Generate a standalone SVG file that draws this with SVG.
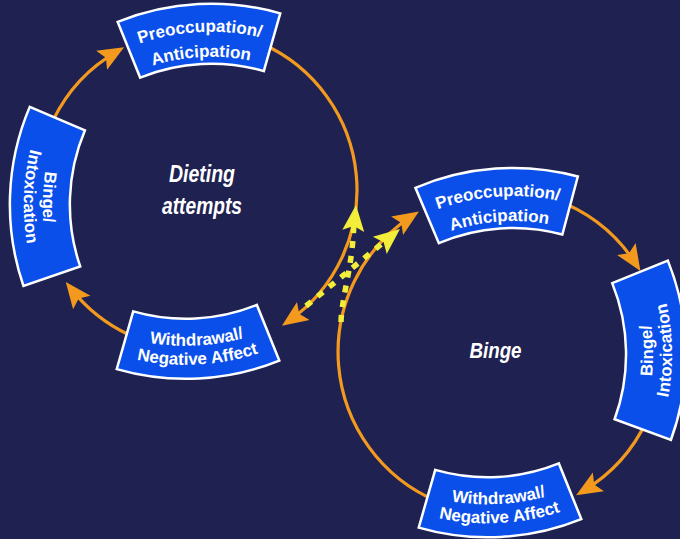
<svg xmlns="http://www.w3.org/2000/svg" xmlns:xlink="http://www.w3.org/1999/xlink" width="680" height="539" viewBox="0 0 680 539">
  <style>
    .banner { fill: #0B4FEA; stroke: #FFFFFF; stroke-width: 2.5; stroke-linejoin: miter; }
    .blabel { font-family: "Liberation Sans", Arial, sans-serif; font-weight: bold; font-size: 17px; fill: #FFFFFF; text-anchor: middle; }
    .center { font-family: "Liberation Sans", Arial, sans-serif; font-weight: bold; font-style: italic; fill: #FFFFFF; text-anchor: middle; }
    .cycle { fill: none; stroke: #F39A1E; stroke-width: 3.2; }
    .cross { fill: none; stroke: #F2EE3A; stroke-width: 5.5; stroke-dasharray: 7 8; }
    .yhead { fill: #F2EE3A; }
  </style>
  <defs>
    <!-- banner outlines: annular sectors, mid-point at origin -->
    <path id="frown" d="M-81.4,-19.4 A250,250 0 0,1 81.4,-19.4 L61.9,37.4 A190,190 0 0,0 -61.9,37.4 Z"/>
    <path id="smile" d="M-61.9,-37.4 A190,190 0 0,0 61.9,-37.4 L81.4,19.4 A250,250 0 0,1 -81.4,19.4 Z"/>
    <path id="smileL" d="M-68.1,-39.6 A190,190 0 0,0 68.1,-39.6 L89.6,16.4 A250,250 0 0,1 -89.6,16.4 Z"/>
    <!-- baselines for curved two-line labels -->
    <path id="f1" d="M-110,24.2 A222,222 0 0,1 110,24.2"/>
    <path id="f2" d="M-110,53.6 A197,197 0 0,1 110,53.6"/>
    <path id="s1" d="M-110,-29.95 A217,217 0 0,0 110,-29.95"/>
    <path id="s2" d="M-110,-8.2 A236,236 0 0,0 110,-8.2"/>
    <marker id="ah" viewBox="0 0 26 24" refX="18" refY="12" markerWidth="26" markerHeight="24" markerUnits="userSpaceOnUse" orient="auto">
      <path d="M0,1 L26,12 L0,23 L5,12 Z" fill="#F39A1E"/>
    </marker>
    <path id="yarrow" d="M-26,-11 L0,0 L-26,11 L-21,0 Z"/>
  </defs>

  <rect x="0" y="0" width="680" height="539" fill="#1F2251"/>

  <!-- cycle arrows -->
  <g id="connectors">
    <!-- dieting cycle, centre (197,190) r 160 -->
    <path class="cycle" marker-end="url(#ah)" d="M262.1,43.8 A160,160 0 0,1 288.5,321.2"/>
    <path class="cycle" marker-end="url(#ah)" d="M129.4,335.0 A160,160 0 0,1 70.7,288.3"/>
    <path class="cycle" marker-end="url(#ah)" d="M53.2,119.9 A160,160 0 0,1 117.2,51.3"/>
    <!-- binge cycle, centre (500,352) r 162 -->
    <path class="cycle" marker-end="url(#ah)" d="M555.4,199.8 A162,162 0 0,1 636.1,264.2"/>
    <path class="cycle" marker-end="url(#ah)" d="M646.8,420.5 A162,162 0 0,1 583.0,491.1"/>
    <path class="cycle" marker-end="url(#ah)" d="M436.7,501.1 A162,162 0 0,1 412.2,215.9"/>
    <!-- crossover paths between the two cycles -->
    <path class="cross" d="M341,322 C342,295 352,270 353.8,226"/>
    <path class="cross" d="M306,306 L384,242"/>
    <use href="#yarrow" class="yhead" transform="translate(356,205) rotate(-84)"/>
    <use href="#yarrow" class="yhead" transform="translate(400,229) rotate(-39)"/>
  </g>

  <!-- dieting cycle stages -->
  <g id="diet-preoccupation" transform="translate(200,37) rotate(-3)">
    <use href="#frown" class="banner"/>
    <text class="blabel"><textPath href="#f1" startOffset="50%">Preoccupation/</textPath></text>
    <text class="blabel"><textPath href="#f2" startOffset="50%">Anticipation</textPath></text>
  </g>
  <g id="diet-binge" transform="translate(43,197) rotate(92)">
    <use href="#smileL" class="banner"/>
    <text class="blabel"><textPath href="#s1" startOffset="50%">Binge/</textPath></text>
    <text class="blabel"><textPath href="#s2" startOffset="50%">Intoxication</textPath></text>
  </g>
  <g id="diet-withdrawal" transform="translate(197,345.5) rotate(-3)">
    <use href="#smile" class="banner"/>
    <text class="blabel"><textPath href="#s1" startOffset="50%">Withdrawal/</textPath></text>
    <text class="blabel"><textPath href="#s2" startOffset="50%">Negative Affect</textPath></text>
  </g>
  <g id="diet-label">
    <text class="center" x="202" y="182" font-size="23" textLength="66" lengthAdjust="spacingAndGlyphs">Dieting</text>
    <text class="center" x="202" y="214" font-size="23" textLength="80" lengthAdjust="spacingAndGlyphs">attempts</text>
  </g>

  <!-- binge cycle stages -->
  <g id="binge-preoccupation" transform="translate(498,201.5) rotate(-4)">
    <use href="#frown" class="banner"/>
    <text class="blabel"><textPath href="#f1" startOffset="50%">Preoccupation/</textPath></text>
    <text class="blabel"><textPath href="#f2" startOffset="50%">Anticipation</textPath></text>
  </g>
  <g id="binge-binge" transform="translate(653,350.5) rotate(-91)">
    <use href="#smileL" class="banner"/>
    <text class="blabel"><textPath href="#s1" startOffset="50%">Binge/</textPath></text>
    <text class="blabel"><textPath href="#s2" startOffset="50%">Intoxication</textPath></text>
  </g>
  <g id="binge-withdrawal" transform="translate(499,504) rotate(-3)">
    <use href="#smile" class="banner"/>
    <text class="blabel"><textPath href="#s1" startOffset="50%">Withdrawal/</textPath></text>
    <text class="blabel"><textPath href="#s2" startOffset="50%">Negative Affect</textPath></text>
  </g>
  <g id="binge-label">
    <text class="center" x="495.5" y="358" font-size="22" textLength="52" lengthAdjust="spacingAndGlyphs">Binge</text>
  </g>
</svg>
